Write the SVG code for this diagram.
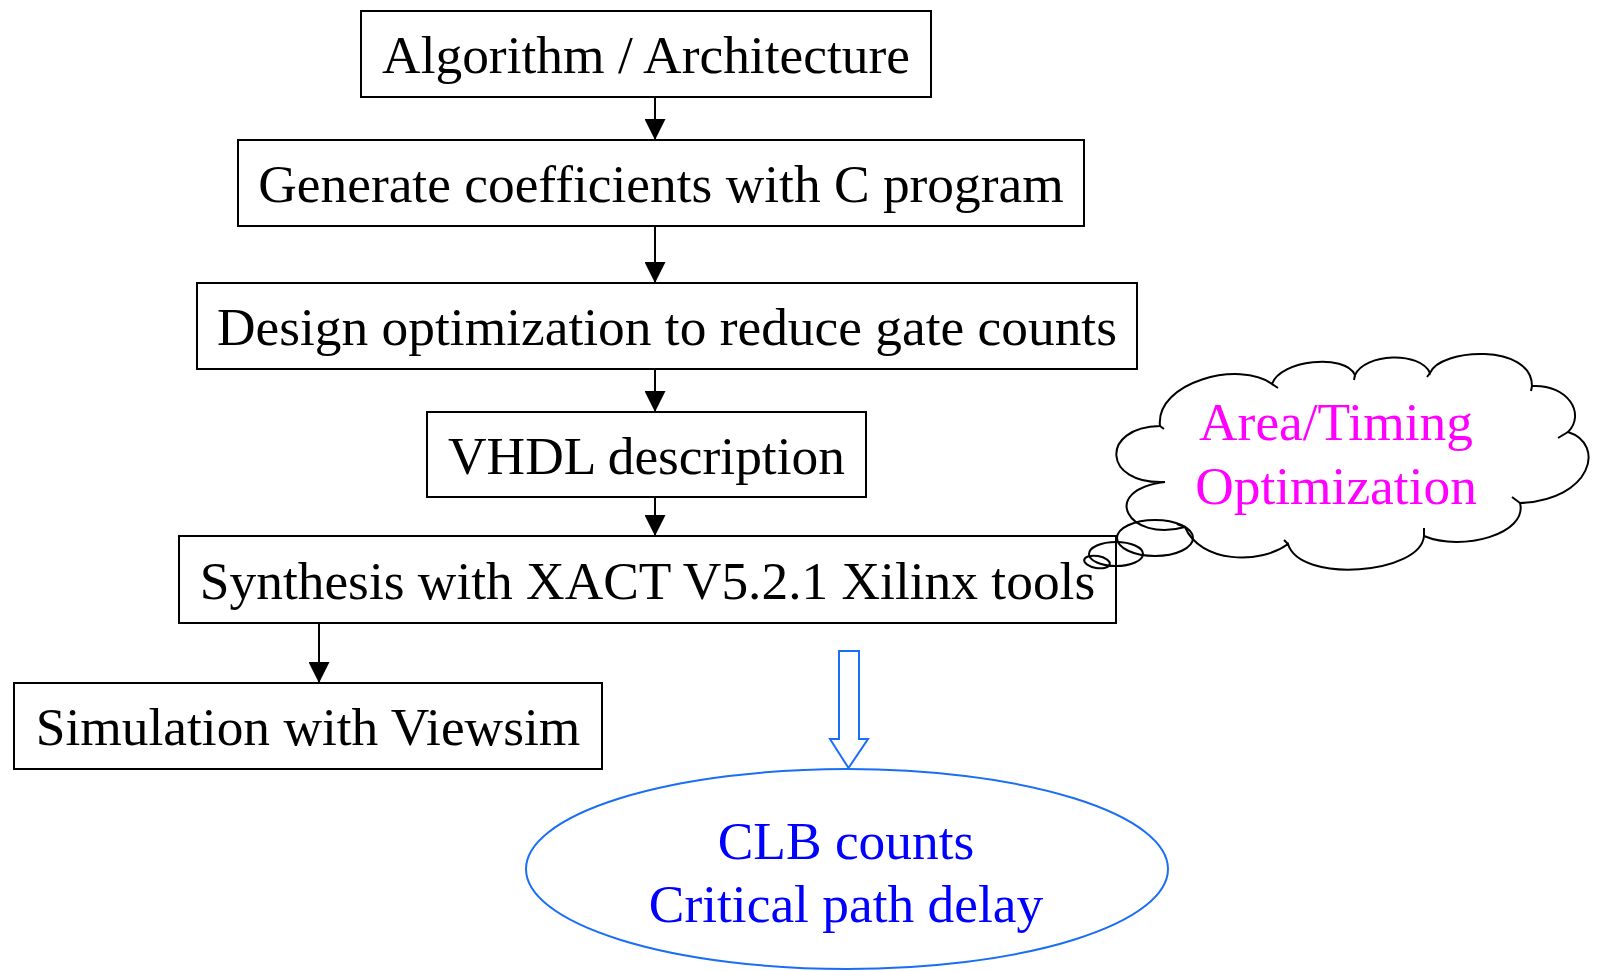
<svg xmlns="http://www.w3.org/2000/svg" width="1598" height="971" viewBox="0 0 1598 971">
<style>
.box{fill:#fff;stroke:#000;stroke-width:2}
.t{font-family:"Liberation Serif","Times New Roman",serif;font-size:53.4px;text-anchor:middle;fill:#000}
.conn{stroke:#000;stroke-width:2;fill:none}
.blue{fill:#0000ff}
.mag{fill:#ff00ff}
</style>
<defs>
<marker id="ah" markerUnits="userSpaceOnUse" markerWidth="22" markerHeight="21" refX="21" refY="10.5" orient="auto">
<path d="M0,0 L21,10.5 L0,21 Z" fill="#000"/>
</marker>
</defs>
<g id="connectors">
<line class="conn" x1="655" y1="97" x2="655" y2="140" marker-end="url(#ah)"/>
<line class="conn" x1="655" y1="226" x2="655" y2="283" marker-end="url(#ah)"/>
<line class="conn" x1="655" y1="369" x2="655" y2="412" marker-end="url(#ah)"/>
<line class="conn" x1="655" y1="497" x2="655" y2="536" marker-end="url(#ah)"/>
<line class="conn" x1="319" y1="623" x2="319" y2="683" marker-end="url(#ah)"/>
<path d="M839,651 L859,651 L859,739 L868,739 L848.5,768 L830,739 L839,739 Z" fill="#fff" stroke="#1a6ef5" stroke-width="2"/>
</g>
<g id="n1"><rect class="box" x="361" y="11" width="570" height="86"/><text class="t" x="646" y="73">Algorithm / Architecture</text></g>
<g id="n2"><rect class="box" x="238" y="140" width="846" height="86"/><text class="t" x="661" y="201.5">Generate coefficients with C program</text></g>
<g id="n3"><rect class="box" x="197" y="283" width="940" height="86"/><text class="t" x="667" y="345">Design optimization to reduce gate counts</text></g>
<g id="n4"><rect class="box" x="427" y="412" width="439" height="85"/><text class="t" x="646.5" y="473.5">VHDL description</text></g>
<g id="n5"><rect class="box" x="179" y="536" width="937" height="87"/><text class="t" x="647.5" y="598.5">Synthesis with XACT V5.2.1 Xilinx tools</text></g>
<g id="n6"><rect class="box" x="14" y="683" width="588" height="86"/><text class="t" x="308" y="745">Simulation with Viewsim</text></g>
<g id="n7"><ellipse cx="847" cy="869" rx="321" ry="100" fill="#fff" stroke="#1a6ef5" stroke-width="2"/>
<text class="t blue" x="846" y="859">CLB counts</text>
<text class="t blue" x="846" y="922">Critical path delay</text></g>
<g id="n8" fill="none" stroke="#000" stroke-width="2">
<path fill="#fff" d="M1165,482 C1102,485 1100,427 1160,426 C1155,382 1240,360 1272,384 C1280,360 1345,353 1355,375 C1365,353 1420,351 1430,373 C1440,348 1532,343 1532,386 C1568,384 1586,414 1568,432 C1606,444 1592,500 1520,503 C1528,534 1462,552 1424,536 C1421,574 1300,584 1288,544 C1260,565 1200,563 1185,527 C1128,543 1098,490 1165,482 Z"/>
<path d="M1160,426 l4,3 M1272,384 l6,4 M1355,375 l-1,5 M1430,373 l-3,4 M1532,386 l-1,5 M1568,432 l-10,6 M1520,503 l-8,-6 M1424,536 l0,-8 M1288,544 l-4,-4 M1185,527 l-8,-3"/>
<ellipse cx="1155" cy="538" rx="38" ry="18"/>
<ellipse cx="1116" cy="554" rx="27" ry="12"/>
<ellipse cx="1097" cy="562" rx="13" ry="6" transform="rotate(10 1097 562)"/>
<text class="t mag" x="1336" y="440" stroke="none">Area/Timing</text>
<text class="t mag" x="1336" y="504" stroke="none">Optimization</text>
</g>
</svg>
